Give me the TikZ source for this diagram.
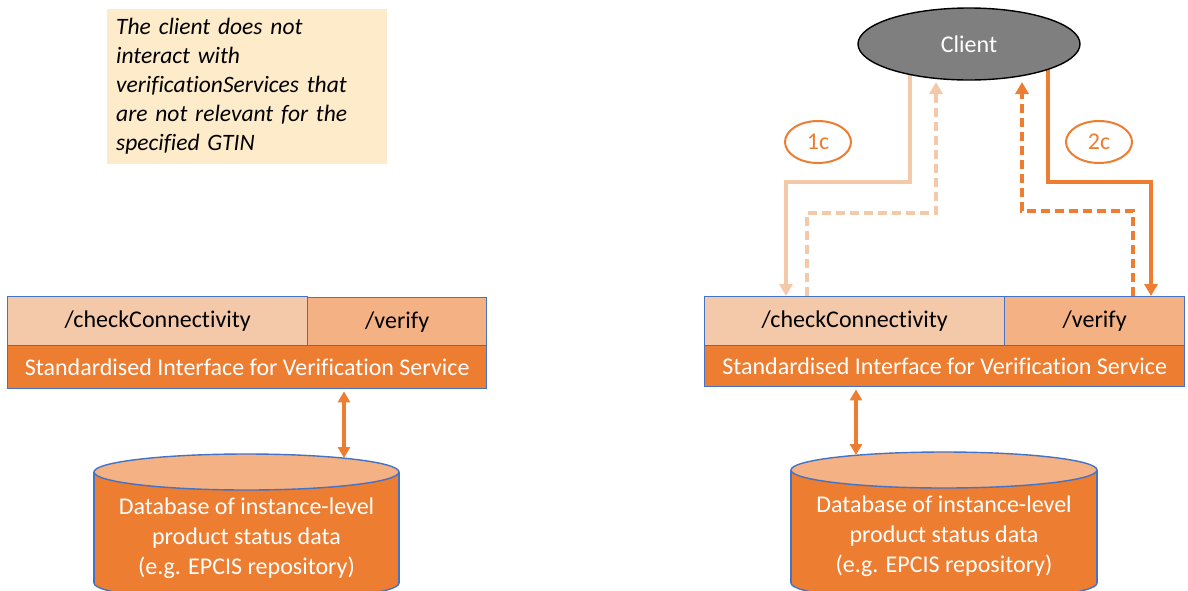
\documentclass[tikz,border=0pt]{standalone}
\usepackage{fontspec}
\setmainfont{Carlito}[Ligatures=NoCommon]
\usetikzlibrary{shapes.geometric,arrows.meta,calc,backgrounds}
\definecolor{orng}{HTML}{ED7D31}
\definecolor{lorng}{HTML}{F4B183}
\definecolor{pale}{HTML}{F4C9A9}
\definecolor{bluel}{HTML}{4472C4}
\definecolor{notec}{HTML}{FDEBC9}
\definecolor{cgray}{HTML}{7F7F7F}
\begin{document}
\begin{tikzpicture}[x=1pt,y=-1pt,
  box/.style={draw=bluel,line width=1.4pt,inner sep=0pt,anchor=north west,font=\fontsize{24}{28}\selectfont},
  dbtext/.style={text=white,align=center,font=\fontsize{24}{30}\selectfont},
  tipA/.style={-{Triangle[width=13pt,length=12pt]}},
  palearrow/.style={draw=pale,line width=3.5pt,tipA},
  orarrow/.style={draw=orng,line width=3.5pt,tipA},
  dashy/.style={dash pattern=on 9pt off 5pt},
  dbl/.style={draw=orng,line width=3.5pt,{Triangle[width=12pt,length=11pt]}-{Triangle[width=12pt,length=11pt]}},
  steplabel/.style={ellipse,draw=orng,line width=2pt,fill=white,text=orng,minimum width=66pt,minimum height=42pt,inner sep=0pt,font=\fontsize{24}{28}\selectfont}
]
\useasboundingbox (0,0) rectangle (1188,590);
\clip (0,0) rectangle (1188,590);

% note
\node[fill=notec,anchor=north west,minimum width=278pt,minimum height=155pt,text width=262pt,inner xsep=9pt,inner ysep=0pt,align=left,font=\fontsize{23.5}{29}\selectfont\itshape] (note) at (107,9)
  {\raisebox{-2pt}{\parbox{262pt}{The client does not\\interact with\\verificationServices that\\are not relevant for the\\specified GTIN}}};

% left interface
\node[box,fill=pale,minimum width=300pt,minimum height=49pt] (cc1) at (7,296) {/checkConnectivity};
\node[box,fill=lorng,minimum width=179pt,minimum height=48pt] (vf1) at (307,297) {/verify};
\node[box,fill=orng,text=white,minimum width=479pt,minimum height=43pt] (si1) at (7,345) {Standardised Interface for Verification Service};

% right interface
\node[box,fill=pale,minimum width=300pt,minimum height=49pt] (cc2) at (704,296) {/checkConnectivity};
\node[box,fill=lorng,minimum width=180pt,minimum height=49pt] (vf2) at (1004,296) {/verify};
\node[box,fill=orng,text=white,minimum width=480pt,minimum height=41pt] (si2) at (704,345) {Standardised Interface for Verification Service};

% left database
\fill[orng] (94,472) rectangle (399,583);
\fill[orng] (246.5,583) ellipse[x radius=152.5pt,y radius=18pt];
\draw[bluel,line width=1.4pt] (94,472) -- (94,583) (399,472) -- (399,583);
\begin{scope}
\clip (0,583) rectangle (1188,640);
\draw[bluel,line width=1.4pt] (246.5,583) ellipse[x radius=152.5pt,y radius=18pt];
\end{scope}
\filldraw[fill=lorng,draw=bluel,line width=1.4pt] (246.5,472) ellipse[x radius=152.5pt,y radius=18pt];
\node[dbtext] (db1) at (246.5,538) {Database of instance-level\\product status data\\(e.g. EPCIS repository)};
\coordinate (db1top) at (344,458);

% right database
\fill[orng] (791,470) rectangle (1097,583);
\fill[orng] (944,583) ellipse[x radius=153pt,y radius=18pt];
\draw[bluel,line width=1.4pt] (791,470) -- (791,583) (1097,470) -- (1097,583);
\begin{scope}
\clip (0,583) rectangle (1188,640);
\draw[bluel,line width=1.4pt] (944,583) ellipse[x radius=153pt,y radius=18pt];
\end{scope}
\filldraw[fill=lorng,draw=bluel,line width=1.4pt] (944,470) ellipse[x radius=153pt,y radius=18pt];
\node[dbtext] (db2) at (944,536) {Database of instance-level\\product status data\\(e.g. EPCIS repository)};
\coordinate (db2top) at (856,455);

% db arrows
\draw[dbl] ($(si1.south -| db1top)+(0,2)$) -- (db1top);
\draw[dbl] ($(si2.south -| db2top)+(0,2)$) -- (db2top);

% client
\node[ellipse,draw=black,line width=1.4pt,fill=cgray,text=white,minimum width=222pt,minimum height=72pt,font=\fontsize{24}{28}\selectfont] (client) at (969,44) {Client};

\node[steplabel] (l1c) at (818,142) {1c};
\node[steplabel] (l2c) at (1099,142) {2c};

\begin{scope}[on background layer]
\draw[palearrow] ($(client.center)+(-59,0)$) -- ++(0,138) -| ($(cc2.north west)+(82,0)$);
\draw[palearrow,dashy] ($(cc2.north west)+(103,0)$) -- ++(0,-83) -| ($(client.center)+(-33,38)$);
\draw[orarrow,dashy] ($(vf2.north west)+(129,0)$) -- ++(0,-85) -| ($(client.center)+(53,38)$);
\draw[orarrow] ($(client.center)+(79,0)$) -- ++(0,138) -| ($(vf2.north west)+(147,0)$);
\end{scope}
\end{tikzpicture}
\end{document}
